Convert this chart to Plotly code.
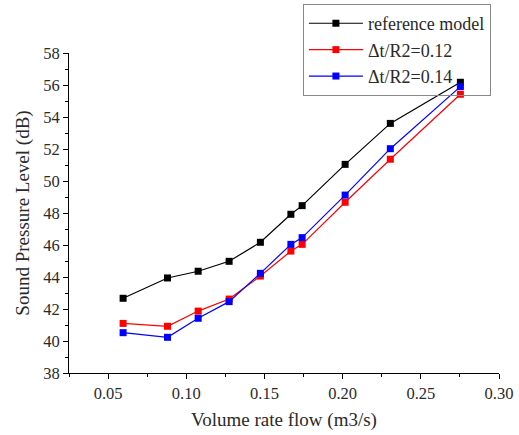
import plotly.graph_objects as go

flow = [0.0596, 0.088, 0.1076, 0.1274, 0.1474, 0.1669, 0.1741, 0.2016, 0.2305, 0.2753]
reference_model = [42.67, 43.94, 44.36, 44.98, 46.17, 47.92, 48.46, 51.04, 53.6, 56.17]
dt_r2_012 = [41.1, 40.92, 41.87, 42.62, 44.06, 45.62, 46.04, 48.67, 51.36, 55.42]
dt_r2_014 = [40.52, 40.23, 41.42, 42.46, 44.23, 46.04, 46.46, 49.12, 52.02, 55.9]

series = [
    ("reference model", reference_model, "#000000"),
    ("\u0394t/R2=0.12", dt_r2_012, "#ff0000"),
    ("\u0394t/R2=0.14", dt_r2_014, "#0000ff"),
]

fig = go.Figure()
for name, vals, color in series:
    fig.add_trace(go.Scatter(
        x=flow, y=vals, name=name, mode="lines+markers",
        line=dict(color=color, width=1.2),
        marker=dict(symbol="square", size=7, color=color),
        cliponaxis=False,
    ))

font = "Liberation Serif, Times New Roman, serif"
fig.update_layout(
    width=519, height=435,
    margin=dict(l=69, r=20, t=53, b=62, autoexpand=False),
    paper_bgcolor="white", plot_bgcolor="white",
    font=dict(family=font, size=16.5, color="#2a2a2a"),
    showlegend=True,
    legend=dict(
        x=0.544, y=1.153, xanchor="left", yanchor="top",
        bordercolor="#888888", borderwidth=1, bgcolor="rgba(255,255,255,0)",
        font=dict(family=font, size=18, color="#2a2a2a"),
        tracegroupgap=0, itemwidth=54,
    ),
)
fig.update_xaxes(
    range=[0.025, 0.30], dtick=0.05, tick0=0.05, tickformat=".2f",
    showgrid=False, zeroline=False,
    showline=True, linecolor="#000000", linewidth=1,
    ticks="outside", ticklen=5, tickcolor="#000000",
    minor=dict(dtick=0.025, tick0=0.025, ticks="outside", ticklen=3, tickcolor="#000000"),
    title=dict(text="Volume rate flow (m3/s)", font=dict(size=19), standoff=10),
)
fig.update_yaxes(
    range=[38, 58], dtick=2, tick0=38,
    showgrid=False, zeroline=False,
    showline=True, linecolor="#000000", linewidth=1,
    ticks="outside", ticklen=5, tickcolor="#000000",
    minor=dict(dtick=1, tick0=38, ticks="outside", ticklen=3, tickcolor="#000000"),
    title=dict(text="Sound Pressure Level (dB)", font=dict(size=19), standoff=8),
)

fig.write_html("out.html", config={"displayModeBar": False},
               post_script="document.body.style.margin='0';")
